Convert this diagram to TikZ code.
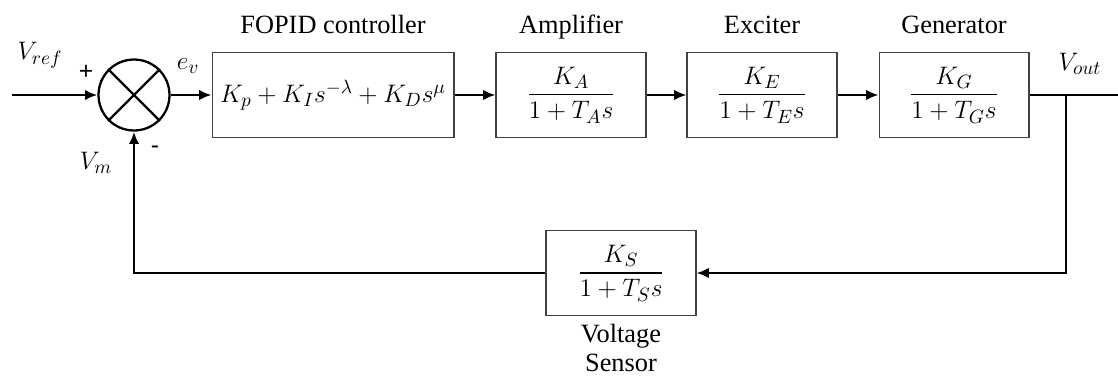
\documentclass[tikz,border=0pt]{standalone}
\usepackage{fontspec}
\setmainfont{Liberation Serif}
\newfontfamily\signfont{Liberation Sans}
\usepackage{amsmath}
\usetikzlibrary{positioning, calc, arrows.meta}

\begin{document}
\begin{tikzpicture}[
        x=0.02cm, y=-0.02cm,
        font=\fontsize{15}{17}\selectfont,
        block/.style={rectangle, draw=black!75, line width=0.6pt, minimum width=3cm, minimum height=1.7cm, inner sep=0pt},
        sumjunct/.style={circle, draw, line width=1.3pt, minimum size=1.42cm, inner sep=0pt},
        signal/.style={line width=1.4pt, -{Latex[length=7pt, width=6pt]}},
        wire/.style={line width=1.4pt},
        caption/.style={inner sep=0pt, align=center, text height=1.6ex, text depth=0.3ex}
    ]
        \useasboundingbox (0,0) rectangle (1118,380);

        % forward path
        \node[sumjunct] (sum) at (134,95) {};
        \draw[line width=1.3pt] (sum.north west) -- (sum.south east) (sum.north east) -- (sum.south west);
        \node[block, minimum width=4.84cm] (fopid) at (333,95) {$K_p+K_Is^{-\lambda}+K_Ds^{\mu}$};
        \node[block] (amp) at (571,95) {$\dfrac{K_A}{1+T_As}$};
        \node[block] (exc) at (762,95) {$\dfrac{K_E}{1+T_Es}$};
        \node[block] (gen) at (954,95) {$\dfrac{K_G}{1+T_Gs}$};

        % feedback path
        \node[block] (sens) at (621,273) {$\dfrac{K_S}{1+T_Ss}$};

        % captions
        \node[caption, above=0.32cm of fopid] (fopidcap) {FOPID controller};
        \node[caption, above=0.32cm of amp] (ampcap) {Amplifier};
        \node[caption, above=0.32cm of exc] (exccap) {Exciter};
        \node[caption, above=0.32cm of gen] (gencap) {Generator};
        \node[inner sep=0pt, align=center, below=0.15cm of sens, font=\fontsize{15}{16.5}\selectfont] (senscap) {Voltage\\Sensor};

        % signal labels
        \node (vref) at (40,55) {$V_{ref}$};
        \node[font=\signfont\fontsize{14}{16}\selectfont] (plus) at (86,72) {+};
        \node (ev) at (188,66) {$e_v$};
        \node (vm) at (96,163) {$V_m$};
        \node[font=\signfont\fontsize{14}{16}\selectfont] (minus) at (155,150) {-};
        \node (vout) at (1080,64) {$V_{out}$};

        % connectors
        \coordinate (vin) at (12,95);
        \coordinate (tap) at (1066,95);
        \coordinate (vend) at (1118,95);
        \coordinate (tapdown) at (1066,273);
        \coordinate (sumdown) at (134,273);
        \draw[signal] (vin) -- (sum.west);
        \draw[signal] (sum.east) -- (fopid.west);
        \draw[signal] (fopid.east) -- (amp.west);
        \draw[signal] (amp.east) -- (exc.west);
        \draw[signal] (exc.east) -- (gen.west);
        \draw[wire] (gen.east) -- (vend);
        \draw[signal] (tap) -- (tapdown) -- (sens.east);
        \draw[signal] (sens.west) -- (sumdown) -- (sum.south);
    \end{tikzpicture}
\end{document}
